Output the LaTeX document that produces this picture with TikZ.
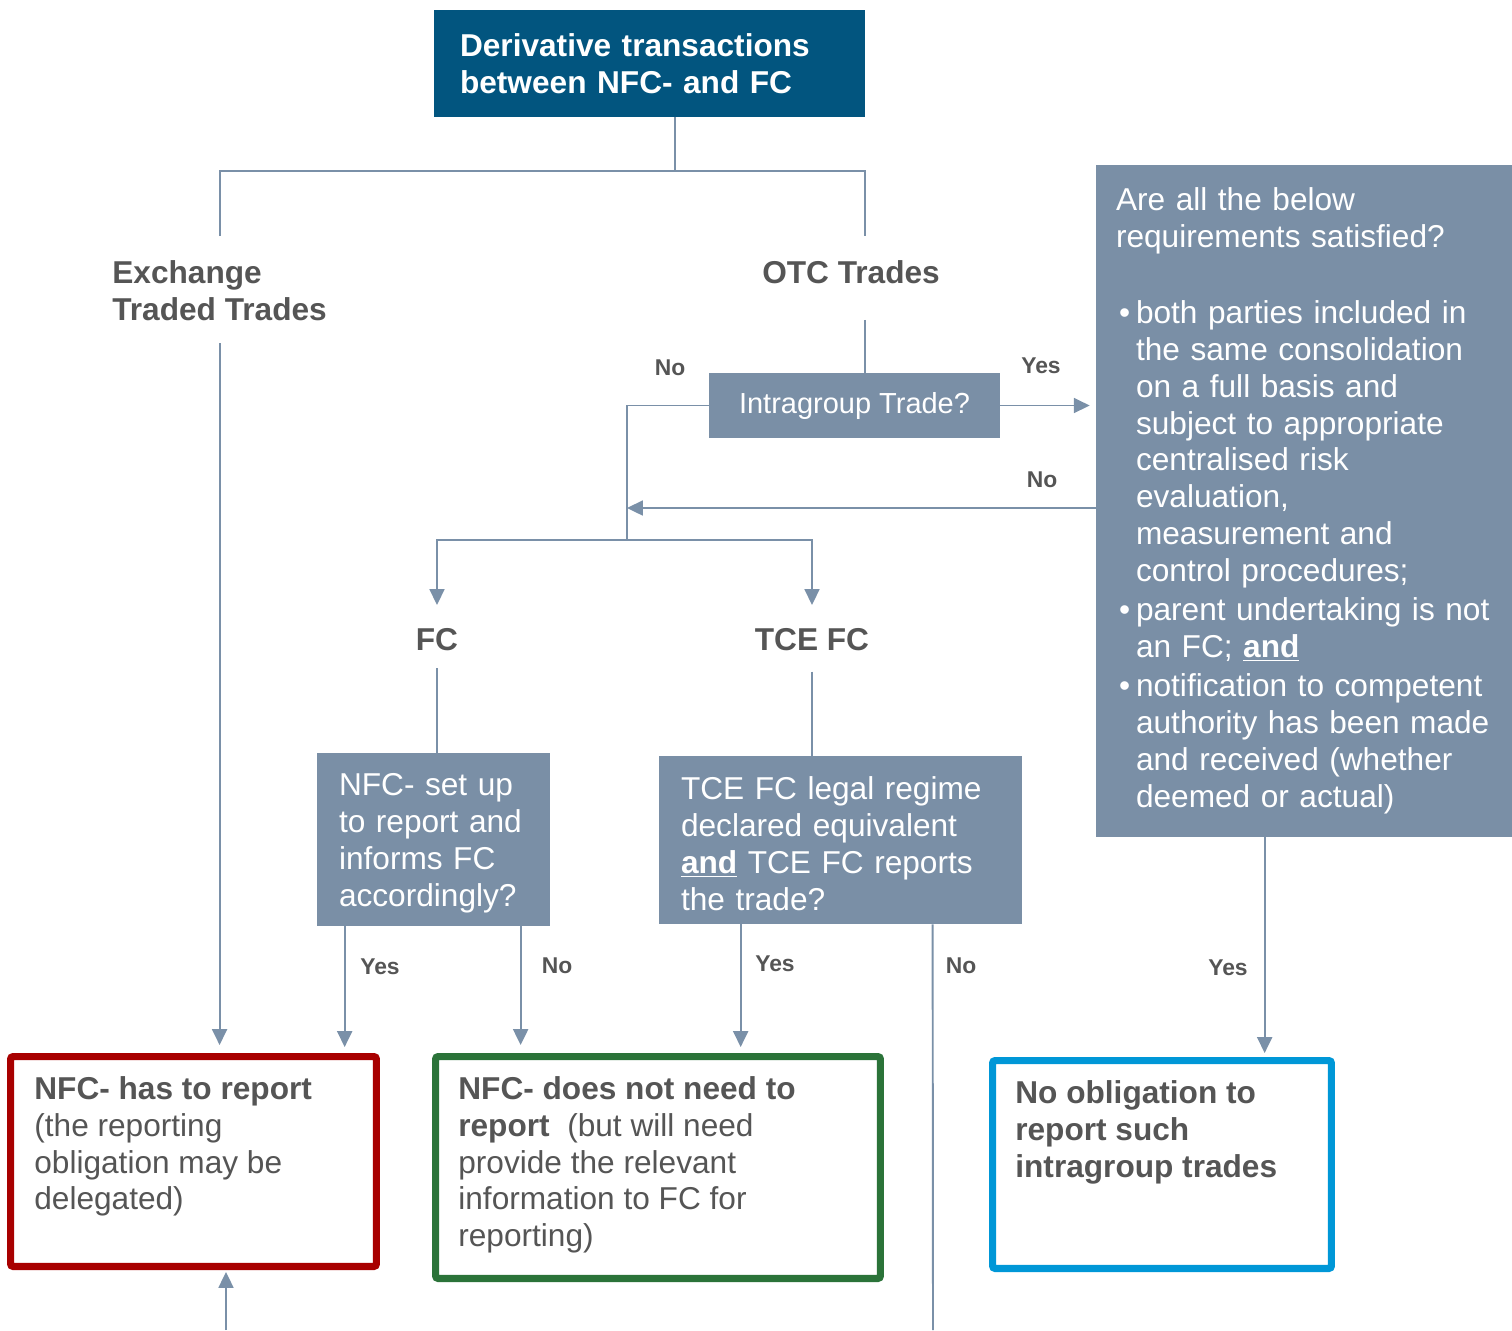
\documentclass[tikz,border=0pt]{standalone}
\usepackage{fontspec}
\setmainfont{Liberation Sans}
\usetikzlibrary{arrows.meta}
\usepackage{xcolor}

\definecolor{dkblue}{HTML}{02557F}
\definecolor{qgray}{HTML}{7A8FA6}
\definecolor{lnblue}{HTML}{7A90A8}
\definecolor{txtgray}{HTML}{555555}
\definecolor{repred}{HTML}{A80000}
\definecolor{norepgreen}{HTML}{2B7339}
\definecolor{nooblblue}{HTML}{0097D7}

\newcommand{\boxfont}{\fontsize{18}{21}\selectfont}
\newcommand{\itembul}{\hspace*{0.06cm}\makebox[0.34cm][l]{\textbullet}}
\newcommand{\itemcont}{\hspace*{0.4cm}}

\begin{document}
\begin{tikzpicture}[x=0.02cm, y=-0.02cm,
    conn/.style={draw=lnblue, line width=1.1pt},
    connarr/.style={conn, -{Triangle[width=8.5pt,length=9pt]}},
    qbox/.style={fill=qgray, text=white, align=left, inner xsep=0.44cm, inner ysep=0pt, font=\boxfont},
    outbox/.style={draw, line width=4pt, rounded corners=1.5pt, outer sep=0pt},
    restxt/.style={anchor=north west, inner sep=0pt, align=left, text=txtgray, font=\boxfont},
    hdr/.style={inner sep=0pt, align=left, text=txtgray, font=\bfseries\boxfont},
    lbl/.style={inner sep=0pt, text=txtgray, font=\bfseries\fontsize{13}{15}\selectfont}]

	\useasboundingbox (0,0) rectangle (1512,1330);

	% boxes and headings
	\node[fill=dkblue, text=white, font=\bfseries\boxfont, align=left, text width=7.58cm, inner xsep=0.52cm, minimum height=2.14cm] (top) at (649.5,63.5) {Derivative transactions\\between NFC- and FC};
	\node[hdr, anchor=west] (exch) at (112,291) {Exchange\\Traded Trades};
	\node[hdr] (otc) at (851,272) {OTC Trades};
	\node[qbox, font=\fontsize{16.5}{20}\selectfont, minimum width=5.82cm, minimum height=1.3cm] (ig) at (854.5,405.5) {Intragroup Trade?};
	\node[qbox, text width=7.52cm, inner xsep=0.4cm, minimum height=13.44cm] (req) at (1304,501) {Are all the below\\requirements satisfied?\\[22pt]
		\itembul both parties included in\\
		\itemcont the same consolidation\\
		\itemcont on a full basis and\\
		\itemcont subject to appropriate\\
		\itemcont centralised risk\\
		\itemcont evaluation,\\
		\itemcont measurement and\\
		\itemcont control procedures;\\[1pt]
		\itembul parent undertaking is not\\
		\itemcont an FC; \underline{\textbf{and}}\\[1.5pt]
		\itembul notification to competent\\
		\itemcont authority has been made\\
		\itemcont and received (whether\\
		\itemcont deemed or actual)\\[5pt]};
	\node[hdr] (fcl) at (437,640) {FC};
	\node[hdr] (tcel) at (812,640) {TCE FC};
	\node[qbox, text width=3.78cm, minimum height=3.46cm] (setup) at (433.5,839.5) {\rule{0pt}{17pt}NFC- set up\\to report and\\informs FC\\accordingly?};
	\node[qbox, text width=6.38cm, minimum height=3.36cm] (tce) at (840.5,840) {\rule{0pt}{17pt}TCE FC legal regime\\declared equivalent\\\underline{\textbf{and}} TCE FC reports\\the trade?};

	% outcomes
	\node[outbox, draw=repred, minimum width=7.32cm, minimum height=4.2cm] (nfcrep) at (193.5,1161.5) {};
	\node[outbox, draw=norepgreen, minimum width=8.9cm, minimum height=4.44cm] (nfcno) at (658,1167.5) {};
	\node[outbox, draw=nooblblue, minimum width=6.78cm, minimum height=4.16cm] (noobl) at (1162,1164.5) {};
	\node[restxt] (nfcreptxt) at (34,1076) {\textbf{NFC- has to report}\\(the reporting\\obligation may be\\delegated)};
	\node[restxt] (nfcnotxt) at (458,1076) {\textbf{NFC- does not need to}\\\textbf{report}\ \ (but will need\\provide the relevant\\information to FC for\\reporting)};
	\node[restxt] (noobltxt) at (1015,1080) {\textbf{No obligation to}\\\textbf{report such}\\\textbf{intragroup trades}};

	% yes / no labels
	\foreach \nm/\px/\py/\txt in {no1/670/368/No, yes1/1041/366/Yes, no2/1042/480/No, yes2/380/967/Yes,
		no3/557/966/No, yes3/775/964/Yes, no4/961/966/No, yes4/1228/968/Yes}{
		\node[lbl] (\nm) at (\px,\py) {\txt};
	}

	% junctions and drop points
	\coordinate (tj) at (675,171);
	\coordinate (ot) at (865,236);
	\coordinate (nj) at (627,540);
	\coordinate (nr) at (627,508);
	\coordinate (sy) at ([xshift=0.56cm]setup.south west);
	\coordinate (sn) at ([xshift=4.08cm]setup.south west);
	\coordinate (ty) at ([xshift=1.64cm]tce.south west);
	\coordinate (tn) at ([xshift=5.48cm]tce.south west);
	\coordinate (ry) at ([xshift=3.38cm]req.south west);
	\coordinate (tend) at (933,1330);
	\coordinate (rin) at (226,1330);

	% connectors
	\draw[conn] (top.south -| tj) -- (tj);
	\draw[conn] (exch.north |- ot) |- (tj) -| (ot);
	\draw[connarr, shorten <=0.44cm, shorten >=0.23cm] (exch.south) -- (exch.south |- nfcrep.north);
	\draw[conn, shorten <=0.72cm] (otc.south -| ot) -- (ig.north -| ot);
	\draw[connarr, shorten >=0.12cm] (ig.east) -- (ig.east -| req.west);
	\draw[conn] (ig.west) -| (nj);
	\draw[connarr] (nr -| req.west) -- (nr);
	\draw[connarr, shorten >=0.47cm] (nj) -| (fcl.north);
	\draw[connarr, shorten >=0.47cm] (nj) -| (tcel.north);
	\draw[conn, shorten <=0.33cm] (fcl.south) -- (fcl.south |- setup.north);
	\draw[conn, shorten <=0.4cm] (tcel.south) -- (tcel.south |- tce.north);
	\draw[connarr, shorten >=0.19cm] (sy) -- (sy |- nfcrep.north);
	\draw[connarr, shorten >=0.23cm] (sn) -- (sn |- nfcno.north);
	\draw[connarr, shorten >=0.19cm] (ty) -- (ty |- nfcno.north);
	\draw[conn] (tn) -- (tend);
	\draw[connarr, shorten >=0.15cm] (ry) -- (ry |- noobl.north);
	\draw[connarr, shorten >=0.11cm] (rin) -- (rin |- nfcrep.south);

\end{tikzpicture}
\end{document}
